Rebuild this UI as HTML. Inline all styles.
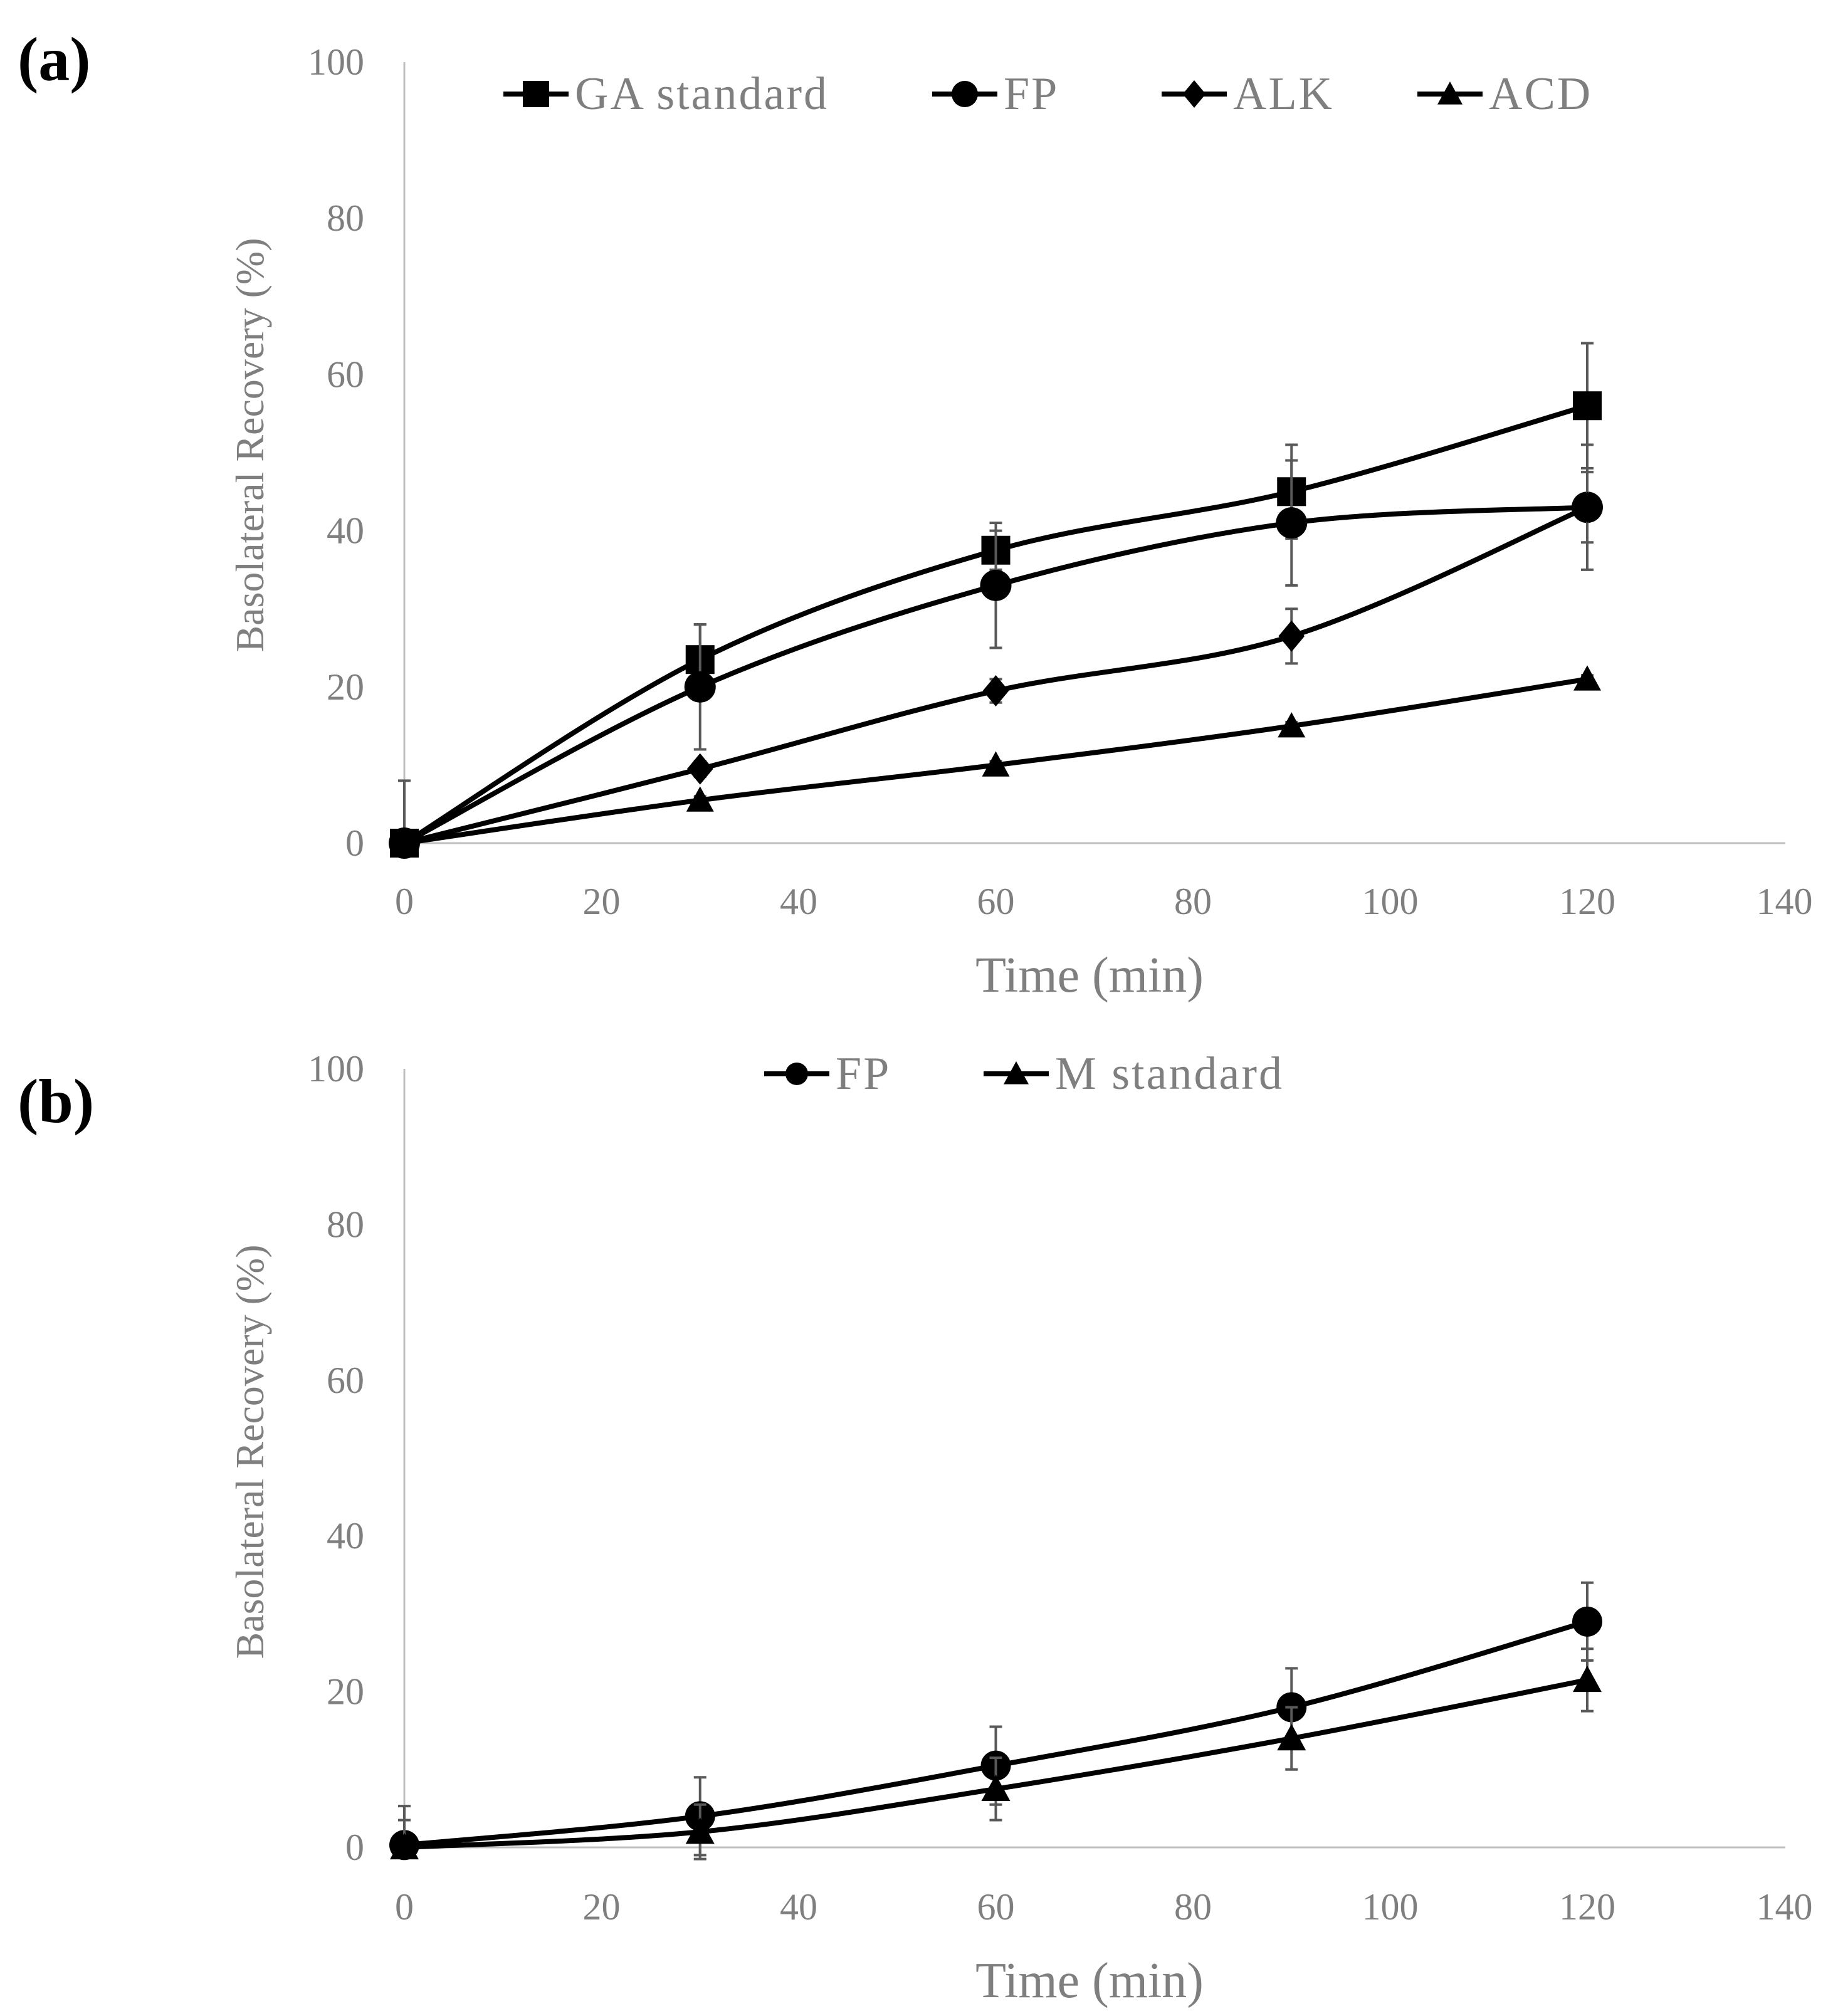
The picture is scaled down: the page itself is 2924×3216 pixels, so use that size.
<!DOCTYPE html>
<html><head><meta charset="utf-8">
<style>
html,body{margin:0;padding:0;background:#fff;}
svg{display:block;}
text{font-family:"Liberation Serif",serif;}
</style></head>
<body>
<svg id="chart" width="2924" height="3216" viewBox="0 0 2924 3216" xmlns="http://www.w3.org/2000/svg"></svg>
<script>
const times = [0, 30, 60, 90, 120];
const xTicks = [0, 20, 40, 60, 80, 100, 120, 140];
const yTicks = [0, 20, 40, 60, 80, 100];
// Panel a
const gaStd = [0, 23.5, 37.5, 45, 56];
const gaErr = [8, 4.5, 2.5, 6, 8];
const fpA = [0, 20, 33, 41, 43];
const fpAErr = [0, 8, 8, 8, 8];
const alk = [0, 9.5, 19.5, 26.5, 43];
const alkErr = [0, 1, 1.5, 3.5, 4.5];
const acd = [0, 5.5, 10, 15, 21];
const acdErr = [0, 0.5, 0.5, 0.5, 0.5];
// Panel b
const fpB = [0.3, 4, 10.5, 18, 29];
const fpBErr = [5, 5, 5, 5, 5];
const mStd = [0, 2, 7.5, 14, 21.5];
const mStdErr = [3.5, 3.5, 4, 4, 4];

const NS = "http://www.w3.org/2000/svg";
const svg = document.getElementById('chart');
function mk(tag, attrs, parent){
  const e = document.createElementNS(NS, tag);
  for (const k in attrs) e.setAttribute(k, attrs[k]);
  (parent||svg).appendChild(e);
  return e;
}
function smoothPath(pts){
  let d = `M${pts[0][0]},${pts[0][1]}`;
  for (let i=0;i<pts.length-1;i++){
    const p0=pts[Math.max(i-1,0)], p1=pts[i], p2=pts[i+1], p3=pts[Math.min(i+2,pts.length-1)];
    const t=1/6;
    const c1=[p1[0]+(p2[0]-p0[0])*t, p1[1]+(p2[1]-p0[1])*t];
    const c2=[p2[0]-(p3[0]-p1[0])*t, p2[1]-(p3[1]-p1[1])*t];
    d += ` C${c1[0]},${c1[1]} ${c2[0]},${c2[1]} ${p2[0]},${p2[1]}`;
  }
  return d;
}
function marker(g, type, x, y, s){
  let e;
  if (type==='square') e = mk('rect',{x:x-s/2,y:y-s/2,width:s,height:s,fill:'#000'},g);
  else if (type==='circle') e = mk('circle',{cx:x,cy:y,r:s/2,fill:'#000'},g);
  else if (type==='diamond') e = mk('polygon',{points:`${x},${y-s/2} ${x+s/2.4},${y} ${x},${y+s/2} ${x-s/2.4},${y}`,fill:'#000'},g);
  else e = mk('polygon',{points:`${x},${y-s/2} ${x+s/2},${y+s/2.4} ${x-s/2},${y+s/2.4}`,fill:'#000'},g);
  
  
  return e;
}
function panel(cfg){
  const X0=645, XW=314.5/20, Y0=cfg.y0, YH=(cfg.y0-cfg.y100)/100;
  const xs = v => X0 + v*XW;
  const ys = v => Y0 - v*YH;
  const g = mk('g',{});
  
  
  const ya = mk('line',{x1:X0,y1:ys(100),x2:X0,y2:Y0,stroke:'#bfbfbf','stroke-width':3},g);
  
  
  const xa = mk('line',{x1:X0,y1:Y0,x2:2848,y2:Y0,stroke:'#bfbfbf','stroke-width':3},g);
  
  
  yTicks.forEach(v=>{
    const t = mk('text',{x:X0-64,y:ys(v)+20,'text-anchor':'end','font-size':60,fill:'#7f7f7f'},g);
    t.textContent=v;
    
    
  });
  xTicks.forEach(v=>{
    const t = mk('text',{x:xs(v),y:cfg.xTickY,'text-anchor':'middle','font-size':60,fill:'#7f7f7f'},g);
    t.textContent=v;
    
    
  });
  const xt = mk('text',{x:1738,y:cfg.xTitleY,'text-anchor':'middle','font-size':80,fill:'#7f7f7f'},g);
  xt.textContent='Time (min)';
  
  
  const yt = mk('text',{x:0,y:0,'text-anchor':'middle','font-size':64,fill:'#7f7f7f','letter-spacing':0,transform:`translate(420,${cfg.yTitleY}) rotate(-90)`},g);
  yt.textContent='Basolateral Recovery (%)';
  
  
  const lab = mk('text',{x:28,y:cfg.labelY,'font-size':100,'font-weight':'bold',fill:'#000'},g);
  lab.textContent=cfg.label;
  
  
  cfg.series.forEach(s=>{
    const sg = mk('g',{},g);
    
    
    s.vals.forEach((v,i)=>{
      const e=s.err[i]; if(!e) return;
      const x=xs(times[i]);
      const lo = i===0 ? v : v-e;
      const eb = mk('path',{d:`M${x},${ys(lo)} L${x},${ys(v+e)} M${x-10},${ys(lo)} L${x+10},${ys(lo)} M${x-10},${ys(v+e)} L${x+10},${ys(v+e)}`,stroke:'#595959','stroke-width':4,fill:'none'},sg);
      
      
    });
    const pts = s.vals.map((v,i)=>[xs(times[i]),ys(v)]);
    const ln = mk('path',{d:smoothPath(pts),stroke:'#000','stroke-width':8,fill:'none'},sg);
    
    
    pts.forEach(p=>marker(sg,s.m,p[0],p[1],s.size));
  });
  cfg.legend.forEach(l=>{
    const lg = mk('g',{},g);
    
    
    mk('line',{x1:l.x,y1:cfg.legY,x2:l.x+104,y2:cfg.legY,stroke:'#000','stroke-width':8},lg);
    marker(lg,l.m,l.x+52,cfg.legY,l.size);
    const t = mk('text',{x:l.x+114,y:cfg.legY+24,'font-size':74,'letter-spacing':3,fill:'#7f7f7f'},lg);
    t.textContent=l.text;
  });
}
panel({name:'panel-a',label:'(a)',labelY:128,y0:1345,y100:99,xTickY:1458,xTitleY:1582,yTitleY:710,legY:150,
  series:[
    {key:'ga-standard',vals:gaStd,err:gaErr,m:'square',size:46},
    {key:'fp',vals:fpA,err:fpAErr,m:'circle',size:50},
    {key:'alk',vals:alk,err:alkErr,m:'diamond',size:50},
    {key:'acd',vals:acd,err:acdErr,m:'triangle',size:44}],
  legend:[
    {x:803,m:'square',size:42,text:'GA standard'},
    {x:1487,m:'circle',size:42,text:'FP'},
    {x:1853,m:'diamond',size:44,text:'ALK'},
    {x:2261,m:'triangle',size:40,text:'ACD'}]
});
panel({name:'panel-b',label:'(b)',labelY:1790,y0:2947,y100:1705,xTickY:3062,xTitleY:3186,yTitleY:2316,legY:1713,
  series:[
    {key:'fp',vals:fpB,err:fpBErr,m:'circle',size:48},
    {key:'m-standard',vals:mStd,err:mStdErr,m:'triangle',size:46}],
  legend:[
    {x:1219,m:'circle',size:36,text:'FP'},
    {x:1569,m:'triangle',size:40,text:'M standard'}]
});
</script>
</body></html>
